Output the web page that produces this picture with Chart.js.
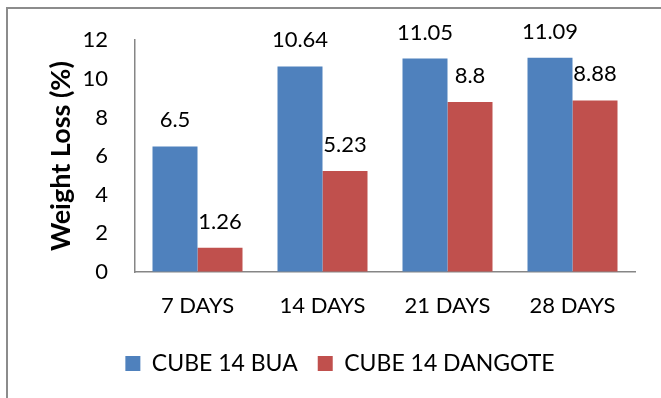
<!DOCTYPE html>
<html>
<head>
<meta charset="utf-8">
<script src="https://cdn.jsdelivr.net/npm/chart.js@4.4.1/dist/chart.umd.min.js"></script>
<style>
  html, body { margin: 0; padding: 0; background: #fff; }
  #wrap { width: 661px; height: 398px; position: relative; }
</style>
</head>
<body>
<div id="wrap"><canvas id="c" width="661" height="398"></canvas></div>
<script>
const categories = ['7 DAYS', '14 DAYS', '21 DAYS', '28 DAYS'];
const seriesNames = ['CUBE 14 BUA', 'CUBE 14 DANGOTE'];
const buaValues = [6.5, 10.64, 11.05, 11.09];
const dangoteValues = [1.26, 5.23, 8.8, 8.88];
const yTicks = [0, 2, 4, 6, 8, 10, 12];

const FONT = 'Lato, "Open Sans", sans-serif';

const frame = {
  id: 'frame',
  beforeDraw(chart) {
    const ctx = chart.ctx;
    ctx.save();
    ctx.fillStyle = '#fff';
    ctx.fillRect(0, 0, chart.width, chart.height);
    ctx.strokeStyle = '#8c8c8c';
    ctx.lineWidth = 2;
    ctx.beginPath();
    ctx.moveTo(7, chart.height);
    ctx.lineTo(7, 8);
    ctx.lineTo(chart.width, 8);
    ctx.stroke();
    ctx.restore();
  }
};

const valueLabels = {
  id: 'valueLabels',
  afterDatasetsDraw(chart) {
    const ctx = chart.ctx;
    ctx.save();
    ctx.font = '22px ' + FONT;
    ctx.fillStyle = '#000';
    ctx.textAlign = 'center';
    ctx.textBaseline = 'alphabetic';
    chart.data.datasets.forEach((ds, i) => {
      const meta = chart.getDatasetMeta(i);
      meta.data.forEach((bar, j) => {
        ctx.fillText(String(ds.data[j]), bar.x, bar.y - 19);
      });
    });
    ctx.restore();
  }
};

new Chart(document.getElementById('c'), {
  type: 'bar',
  data: {
    labels: categories,
    datasets: [
      { label: seriesNames[0], data: buaValues, backgroundColor: '#4F81BD', borderWidth: 0 },
      { label: seriesNames[1], data: dangoteValues, backgroundColor: '#C0504D', borderWidth: 0 }
    ]
  },
  options: {
    responsive: false,
    animation: false,
    events: [],
    layout: { padding: { left: 45, right: 26, top: 39, bottom: 13 } },
    datasets: { bar: { categoryPercentage: 0.72, barPercentage: 1.0 } },
    plugins: {
      legend: {
        position: 'bottom',
        labels: {
          boxWidth: 15, boxHeight: 15, padding: 20,
          color: '#000',
          font: { family: FONT, size: 23 }
        }
      },
      tooltip: { enabled: false }
    },
    scales: {
      x: {
        grid: { color: 'rgba(0,0,0,0)', drawTicks: false },
        border: { display: true, color: '#868686', width: 1.5 },
        ticks: { color: '#000', font: { family: FONT, size: 22 }, padding: 21, maxRotation: 0 },
        afterFit(scale) { scale.height = 60; }
      },
      y: {
        min: 0, max: 12,
        afterBuildTicks(scale) { scale.ticks = yTicks.map(v => ({ value: v })); },
        grid: { color: 'rgba(0,0,0,0)', drawTicks: false },
        border: { display: true, color: '#868686', width: 1.5 },
        ticks: { color: '#000', font: { family: FONT, size: 22 }, padding: 27 },
        title: {
          display: true, text: 'Weight Loss (%)', color: '#000',
          font: { family: FONT, size: 27, weight: 'bold' },
          padding: { top: 0, bottom: 0 }
        },
        afterFit(scale) { scale.width = 90; }
      }
    }
  },
  plugins: [frame, valueLabels]
});
</script>
</body>
</html>
